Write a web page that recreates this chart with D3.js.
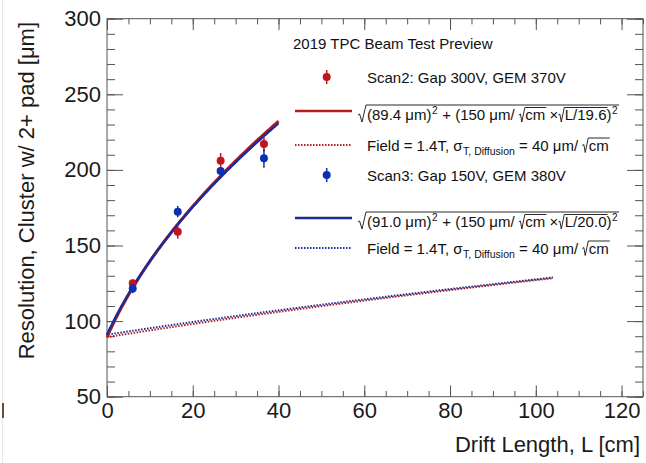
<!DOCTYPE html>
<html><head><meta charset="utf-8">
<script src="https://cdn.jsdelivr.net/npm/d3@7"></script>
<style>body{margin:0;background:#fff} text{white-space:pre}</style>
</head><body><svg id="c" width="646" height="463"></svg>
<script>
// ---- data ----
const driftL   = [6.0, 16.5, 26.5, 36.6];
const scan2Res = [125.0, 159.1, 206.1, 217.1];
const scan2Err = [2.6, 4.6, 5.0, 5.0];
const scan3Res = [121.5, 172.4, 199.3, 207.7];
const scan3Err = [3.0, 3.7, 2.6, 6.2];
// fit parameters shown in the legend: sqrt(s0^2 + (coef*sqrt(L/scale))^2)
const fitSigma0 = [89.4, 91.0];
const fitCoef   = [150, 150];
const fitScale  = [19.6, 20.0];
const diffCoef  = 40;            // field 1.4T diffusion, um/sqrt(cm)
const fitRange  = [0, 40];
const diffRange = [0, 104];
const xTicks = [0, 20, 40, 60, 80, 100, 120];
const yTicks = [50, 100, 150, 200, 250, 300];
const seriesNames = ["Scan2: Gap 300V, GEM 370V", "Scan3: Gap 150V, GEM 380V"];
const titleText = "2019 TPC Beam Test Preview";

const RED = "#b71c1c", BLUE = "#1a2a9a";
const RED_PT = "#c0141e", BLUE_PT = "#0c2fb4";
const lf = "'Liberation Sans', Arial, Helvetica, sans-serif";

const svg = d3.select("#c");
svg.append("rect").attr("width", 646).attr("height", 463).attr("fill", "#fff");
// scan artefacts at the left edge
svg.append("line").attr("x1", 2.5).attr("x2", 2.5).attr("y1", 0).attr("y2", 463).attr("stroke", "#e6e6e6").attr("stroke-width", 1);
svg.append("rect").attr("x", 2).attr("y", 403).attr("width", 2).attr("height", 15).attr("fill", "#6e4b2b");

const L = 107, R = 643, T = 18.7, B = 396.7;
const x = d3.scaleLinear().domain([0, 125]).range([L, R]);
const y = d3.scaleLinear().domain([50, 300]).range([B, T]);

function styleAxis(g) {
  g.select(".domain").remove();
  g.selectAll(".tick line").attr("stroke", "#555").attr("stroke-width", 1);
  g.selectAll("text").attr("font-family", lf).attr("font-size", 22).attr("fill", "#1a1a1a");
}
const minorX = d3.range(0, 126, 5), minorY = d3.range(50, 301, 10);
// bottom
svg.append("g").attr("transform", `translate(0,${B})`)
  .call(d3.axisBottom(x).tickValues(minorX).tickSizeInner(-5.7).tickSizeOuter(0).tickFormat("")).call(styleAxis);
svg.append("g").attr("transform", `translate(0,${B})`)
  .call(d3.axisBottom(x).tickValues(xTicks).tickSizeInner(-11.3).tickSizeOuter(0).tickPadding(5.5).tickFormat(d3.format("d"))).call(styleAxis);
// top
svg.append("g").attr("transform", `translate(0,${T})`)
  .call(d3.axisTop(x).tickValues(minorX).tickSizeInner(-5.7).tickSizeOuter(0).tickFormat("")).call(styleAxis);
svg.append("g").attr("transform", `translate(0,${T})`)
  .call(d3.axisTop(x).tickValues(xTicks).tickSizeInner(-11.3).tickSizeOuter(0).tickFormat("")).call(styleAxis);
// left
svg.append("g").attr("transform", `translate(${L},0)`)
  .call(d3.axisLeft(y).tickValues(minorY).tickSizeInner(-8).tickSizeOuter(0).tickFormat("")).call(styleAxis);
svg.append("g").attr("transform", `translate(${L},0)`)
  .call(d3.axisLeft(y).tickValues(yTicks).tickSizeInner(-16).tickSizeOuter(0).tickPadding(6).tickFormat(d3.format("d"))).call(styleAxis);
// right
svg.append("g").attr("transform", `translate(${R},0)`)
  .call(d3.axisRight(y).tickValues(minorY).tickSizeInner(-8).tickSizeOuter(0).tickFormat("")).call(styleAxis);
svg.append("g").attr("transform", `translate(${R},0)`)
  .call(d3.axisRight(y).tickValues(yTicks).tickSizeInner(-16).tickSizeOuter(0).tickFormat("")).call(styleAxis);
// frame
svg.append("rect").attr("x", L).attr("y", T).attr("width", R - L).attr("height", B - T)
  .attr("fill", "none").attr("stroke", "#555").attr("stroke-width", 1);

// axis titles
svg.append("text").attr("x", 640).attr("y", 452).attr("text-anchor", "end")
  .attr("font-family", lf).attr("font-size", 22).attr("fill", "#1a1a1a").text("Drift Length, L [cm]");
svg.append("text").attr("transform", "translate(34,22) rotate(-90)").attr("text-anchor", "end")
  .attr("font-family", lf).attr("font-size", 22).attr("fill", "#1a1a1a").text("Resolution, Cluster w/ 2+ pad [μm]");

// curves
const line = d3.line().x(d => x(d[0])).y(d => y(d[1]));
function curve(s0, coef, scale, range) {
  return d3.range(range[0], range[1] + 0.001, 0.25).map(l => [l, Math.sqrt(s0 * s0 + coef * coef * l / scale)]);
}
const plot = svg.append("g");
plot.append("path").attr("d", line(curve(fitSigma0[0], diffCoef, fitScale[0], diffRange)))
  .attr("fill", "none").attr("stroke", RED).attr("stroke-width", 2).attr("stroke-dasharray", "1.5,1.5");
plot.append("path").attr("d", line(curve(fitSigma0[1], diffCoef, fitScale[1], diffRange)))
  .attr("fill", "none").attr("stroke", BLUE).attr("stroke-width", 2).attr("stroke-dasharray", "1.5,1.5").attr("stroke-dashoffset", 1.5);
plot.append("path").attr("d", line(curve(fitSigma0[0], fitCoef[0], fitScale[0], fitRange)))
  .attr("fill", "none").attr("stroke", RED).attr("stroke-width", 3);
plot.append("path").attr("d", line(curve(fitSigma0[1], fitCoef[1], fitScale[1], fitRange)))
  .attr("fill", "none").attr("stroke", BLUE).attr("stroke-width", 2.4);

// points
function points(vals, errs, col) {
  const g = plot.append("g");
  driftL.forEach((l, i) => {
    g.append("line").attr("x1", x(l)).attr("x2", x(l)).attr("y1", y(vals[i] - errs[i])).attr("y2", y(vals[i] + errs[i]))
      .attr("stroke", col).attr("stroke-width", 1.5);
    g.append("circle").attr("cx", x(l)).attr("cy", y(vals[i])).attr("r", 4).attr("fill", col);
  });
}
points(scan2Res, scan2Err, RED_PT);
points(scan3Res, scan3Err, BLUE_PT);

// legend
const lg = svg.append("g");
function txt(xx, yy, s, size) {
  const t = lg.append("text").attr("x", xx).attr("y", yy).attr("font-family", lf).attr("font-size", size)
    .attr("fill", "#111").attr("xml:space", "preserve").text(s);
  return t.node().getComputedTextLength();
}
function radical(x0, b, top, w) {
  lg.append("path").attr("d", `M${x0},${b - 5} L${x0 + 1.6},${b - 6} L${x0 + w * 0.5},${b + 2} L${x0 + w},${top}`)
    .attr("fill", "none").attr("stroke", "#111").attr("stroke-width", 0.9);
}
function overline(x0, x1, top) {
  lg.append("line").attr("x1", x0).attr("x2", x1).attr("y1", top).attr("y2", top).attr("stroke", "#111").attr("stroke-width", 0.9);
}
function formula(x0, b, s0, coef, scale) {
  const outerTop = b - 15;
  radical(x0, b, outerTop, 8);
  let cx = x0 + 9;
  cx += txt(cx, b, `(${s0.toFixed(1)} μm)`, 15);
  cx += txt(cx + 0.5, b - 6, "2", 10) + 1;
  cx += txt(cx, b, ` + (${coef} μm/ `, 15);
  radical(cx, b, b - 12.5, 6); let s = cx + 6.5;
  let w = txt(s, b, "cm", 15); overline(cx + 6, s + w + 1, b - 12.5); cx = s + w;
  cx += txt(cx, b, " ×", 15);
  radical(cx, b, b - 12.5, 6); s = cx + 6.5;
  w = txt(s, b, `L/${scale.toFixed(1)}`, 15); overline(cx + 6, s + w + 1, b - 12.5); cx = s + w;
  cx += txt(cx, b, ")", 15);
  cx += txt(cx + 0.5, b - 6, "2", 10) + 1;
  overline(x0 + 8, cx + 1, outerTop);
}
function field(x0, b) {
  let cx = x0;
  cx += txt(cx, b, "Field = 1.4T, σ", 15);
  cx += txt(cx + 0.5, b + 4, "T, Diffusion", 10.5) + 0.5;
  cx += txt(cx, b, " = 40 μm/ ", 15);
  radical(cx, b, b - 12.5, 6); const s = cx + 6.5;
  const w = txt(s, b, "cm", 15); overline(cx + 6, s + w + 1, b - 12.5);
}
function marker(yy, col) {
  lg.append("line").attr("x1", 326.7).attr("x2", 326.7).attr("y1", yy - 7).attr("y2", yy + 7).attr("stroke", col).attr("stroke-width", 1.5);
  lg.append("circle").attr("cx", 326.7).attr("cy", yy).attr("r", 4).attr("fill", col);
}
function lmark(yy, col, dotted) {
  const l = lg.append("line").attr("x1", 295).attr("x2", 352).attr("y1", yy).attr("y2", yy).attr("stroke", col)
    .attr("stroke-width", dotted ? 2 : 2.5);
  if (dotted) l.attr("stroke-dasharray", "1.5,1.5");
}
txt(293, 49, titleText, 15);
const rows = [
  {marker: 77, fit: 111, diff: 145, col: RED, pt: RED_PT, i: 0},
  {marker: 175, fit: 218, diff: 248, col: BLUE, pt: BLUE_PT, i: 1}
];
rows.forEach(r => {
  marker(r.marker, r.pt);
  txt(367, r.marker + 5.5, seriesNames[r.i], 15);
  lmark(r.fit, r.col, false);
  formula(358, r.fit + 9, fitSigma0[r.i], fitCoef[r.i], fitScale[r.i]);
  lmark(r.diff, r.col, true);
  field(367, r.diff + 5.5);
});
</script></body></html>
